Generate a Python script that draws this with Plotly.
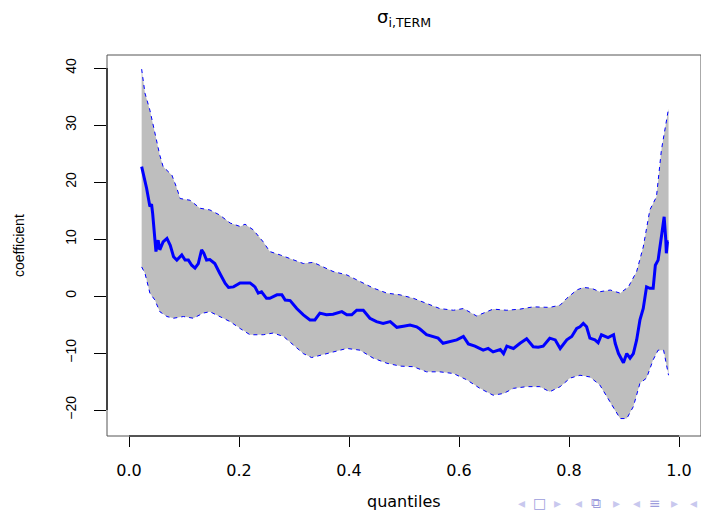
import plotly.graph_objects as go

# Quantile-regression coefficient path with its confidence band
q_mean = [0.023, 0.027, 0.032, 0.038, 0.041, 0.043, 0.047, 0.049, 0.053, 0.056,
          0.062, 0.069, 0.075, 0.081, 0.087, 0.096, 0.102, 0.108, 0.114, 0.120,
          0.126, 0.132, 0.136, 0.141, 0.147, 0.156, 0.165, 0.175, 0.181, 0.190,
          0.202, 0.220, 0.229, 0.235, 0.241, 0.250, 0.256, 0.269, 0.278, 0.284,
          0.293, 0.305, 0.317, 0.329, 0.338, 0.347, 0.359, 0.371, 0.387, 0.396,
          0.405, 0.414, 0.426, 0.438, 0.450, 0.462, 0.475, 0.487, 0.499, 0.511,
          0.523, 0.529, 0.541, 0.553, 0.562, 0.571, 0.584, 0.596, 0.608, 0.617,
          0.629, 0.644, 0.653, 0.662, 0.675, 0.681, 0.687, 0.699, 0.711, 0.723,
          0.735, 0.744, 0.753, 0.765, 0.775, 0.784, 0.796, 0.805, 0.814, 0.820,
          0.826, 0.832, 0.838, 0.847, 0.853, 0.859, 0.871, 0.881, 0.884, 0.890,
          0.899, 0.905, 0.911, 0.917, 0.923, 0.929, 0.935, 0.941, 0.947, 0.953,
          0.957, 0.962, 0.968, 0.973, 0.976, 0.977, 0.979, 0.981]
coef_mean = [22.7, 21.2, 18.9, 15.7, 16.1, 14.5, 9.2, 7.8, 9.8, 8.1,
             9.5, 10.1, 8.9, 6.9, 6.3, 7.2, 6.3, 6.3, 5.4, 4.9,
             5.7, 8.1, 7.5, 6.3, 6.4, 5.7, 4.0, 2.2, 1.5, 1.6,
             2.3, 2.3, 1.6, 0.5, 0.75, -0.4, -0.4, 0.2, 0.2, -0.7,
             -0.8, -2.2, -3.3, -4.2, -4.2, -3.0, -3.3, -3.2, -2.75, -3.3,
             -3.3, -2.5, -2.5, -3.9, -4.5, -4.8, -4.5, -5.5, -5.3, -5.1,
             -5.4, -5.8, -6.8, -7.1, -7.4, -8.3, -8.0, -7.7, -7.1, -8.4,
             -8.8, -9.5, -9.2, -9.8, -9.4, -10.1, -8.8, -9.2, -8.3, -7.5,
             -8.9, -9.0, -8.8, -7.4, -7.7, -9.2, -7.7, -7.1, -5.7, -5.4,
             -4.8, -5.4, -7.4, -7.7, -8.2, -6.8, -7.3, -6.8, -8.3, -10.1,
             -11.7, -10.1, -10.9, -10.1, -7.7, -4.2, -2.2, 1.6, 1.35, 1.35,
             5.4, 6.3, 10.4, 13.9, 9.8, 7.5, 9.5, 9.5]

q_upper = [0.023, 0.029, 0.038, 0.047, 0.056, 0.062, 0.078, 0.087, 0.093, 0.111,
           0.129, 0.147, 0.165, 0.184, 0.202, 0.211, 0.226, 0.244, 0.256, 0.275,
           0.299, 0.317, 0.335, 0.353, 0.371, 0.396, 0.420, 0.444, 0.469, 0.493,
           0.517, 0.541, 0.565, 0.590, 0.608, 0.632, 0.650, 0.662, 0.687, 0.711,
           0.735, 0.765, 0.784, 0.796, 0.814, 0.826, 0.841, 0.856, 0.875, 0.893,
           0.908, 0.923, 0.935, 0.947, 0.959, 0.968, 0.981]
coef_upper = [39.8, 35.6, 32.6, 28.5, 24.7, 22.7, 21.2, 18.9, 17.1, 16.8,
              15.4, 15.1, 14.2, 12.8, 12.2, 12.6, 11.6, 9.5, 7.8, 7.2,
              6.3, 5.7, 5.9, 5.1, 4.3, 3.7, 2.5, 1.4, 0.5, 0.2,
              -0.4, -1.3, -2.2, -2.5, -2.2, -3.5, -2.8, -2.3, -2.5, -2.3,
              -1.9, -2.0, -1.6, -0.4, 1.05, 1.5, 1.35, 0.75, 1.05, 0.5,
              1.6, 4.3, 8.6, 15.1, 17.4, 25.6, 32.9]

q_lower = [0.023, 0.029, 0.038, 0.047, 0.056, 0.069, 0.081, 0.099, 0.117, 0.135,
           0.147, 0.165, 0.184, 0.202, 0.220, 0.244, 0.262, 0.281, 0.299, 0.317,
           0.332, 0.347, 0.371, 0.396, 0.420, 0.444, 0.469, 0.493, 0.517, 0.541,
           0.565, 0.590, 0.614, 0.638, 0.662, 0.681, 0.699, 0.723, 0.747, 0.765,
           0.784, 0.802, 0.820, 0.838, 0.856, 0.869, 0.881, 0.893, 0.905, 0.917,
           0.929, 0.941, 0.953, 0.962, 0.972, 0.981]
coef_lower = [5.1, 4.0, 0.5, -0.7, -2.75, -3.6, -3.9, -3.6, -3.9, -3.0,
              -2.75, -3.6, -4.5, -5.7, -6.8, -6.8, -6.5, -7.1, -8.6, -10.1,
              -10.8, -10.4, -9.8, -9.2, -9.5, -10.9, -11.8, -12.3, -12.4, -13.3,
              -13.3, -13.6, -14.7, -16.2, -17.4, -17.1, -16.2, -15.9, -15.9, -16.8,
              -15.9, -14.4, -13.9, -14.2, -15.6, -17.7, -19.7, -21.5, -21.5, -19.4,
              -15.3, -14.4, -11.2, -9.5, -9.5, -13.9]

x_ticks = [0.0, 0.2, 0.4, 0.6, 0.8, 1.0]
x_tick_labels = ["0.0", "0.2", "0.4", "0.6", "0.8", "1.0"]
y_ticks = [-20, -10, 0, 10, 20, 30, 40]
y_tick_labels = ["\u221220", "\u221210", "0", "10", "20", "30", "40"]

title_text = "\u03c3<sub>i,TERM</sub>"
x_title = "quantiles"
y_title = "coefficient"

BLUE = "#0000ff"
BAND = "#bebebe"

fig = go.Figure()

# shaded band: upper bound forward, lower bound backward
fig.add_trace(go.Scatter(
    x=q_upper + q_lower[::-1],
    y=coef_upper + coef_lower[::-1],
    fill="toself", fillcolor=BAND, mode="lines",
    line=dict(width=0, color=BAND), hoverinfo="skip", showlegend=False,
))
for qs, cs in ((q_upper, coef_upper), (q_lower, coef_lower)):
    fig.add_trace(go.Scatter(
        x=qs, y=cs, mode="lines",
        line=dict(color=BLUE, width=1, dash="4px,4px"),
        showlegend=False,
    ))
fig.add_trace(go.Scatter(
    x=q_mean, y=coef_mean, mode="lines",
    line=dict(color=BLUE, width=3), showlegend=False,
))

AX_FONT = "DejaVu Sans, Liberation Sans, Arial, sans-serif"
R_FONT = "Liberation Sans, Arial, Helvetica, sans-serif"

fig.update_layout(
    width=701, height=513,
    margin=dict(l=107, r=0, t=55, b=77),
    paper_bgcolor="white", plot_bgcolor="white",
    showlegend=False,
    xaxis=dict(
        range=[-0.04, 1.04], showgrid=False, zeroline=False, showline=False,
        tickmode="array", tickvals=x_ticks, ticktext=x_tick_labels,
        ticks="outside", ticklen=10, tickwidth=1, tickcolor="black",
        ticklabelstandoff=10,
        tickfont=dict(family=AX_FONT, size=16, color="black"),
    ),
    yaxis=dict(
        range=[-24.56, 42.28], showgrid=False, zeroline=False, showline=False,
        tickmode="array", tickvals=y_ticks, ticktext=y_tick_labels,
        ticks="outside", ticklen=12, tickwidth=1, tickcolor="black",
        tickangle=-90, ticklabelstandoff=12,
        tickfont=dict(family=R_FONT, size=14, color="black"),
    ),
    shapes=[
        # plot frame
        dict(type="rect", xref="paper", yref="paper", x0=0, x1=1, y0=0, y1=1,
             line=dict(color="#555555", width=1), layer="above"),
        # axis lines spanning the tick range
        dict(type="line", xref="x", yref="paper", x0=x_ticks[0], x1=x_ticks[-1],
             y0=0, y1=0, line=dict(color="black", width=1.2), layer="above"),
        dict(type="line", xref="paper", yref="y", x0=0, x1=0,
             y0=y_ticks[0], y1=y_ticks[-1], line=dict(color="black", width=1.2),
             layer="above"),
    ],
    annotations=[
        dict(text=title_text, xref="paper", yref="paper", x=0.5, y=1.098,
             xanchor="center", yanchor="middle", showarrow=False,
             font=dict(family=AX_FONT, size=18, color="black")),
        dict(text=x_title, xref="paper", yref="paper", x=0.5, y=-0.171,
             xanchor="center", yanchor="middle", showarrow=False,
             font=dict(family=AX_FONT, size=16, color="black")),
        dict(text=y_title, xref="paper", yref="paper", x=-0.149, y=0.5,
             xanchor="center", yanchor="middle", showarrow=False, textangle=-90,
             font=dict(family=R_FONT, size=14, color="black")),
    ],
)

# slide navigation symbols along the bottom edge
nav = [("\u25c2", 521.7, "#c8c8ee"), ("\u25a1", 539, "#9c9cdc"), ("\u25b8", 557, "#c8c8ee"),
       ("\u25c2", 578, "#c8c8ee"), ("\u29c9", 596, "#9c9cdc"), ("\u25b8", 616, "#c8c8ee"),
       ("\u25c2", 636, "#c8c8ee"), ("\u2261", 655, "#9c9cdc"), ("\u25b8", 674, "#c8c8ee"),
       ("\u25c2", 693, "#c8c8ee")]
for sym, px, col in nav:
    fig.add_annotation(
        text=sym, xref="paper", yref="paper",
        x=(px - 107) / 594, y=(436 - 503.5) / 381,
        xanchor="center", yanchor="middle", showarrow=False,
        font=dict(family="DejaVu Sans, sans-serif", size=14, color=col),
    )

fig.write_html("out.html")
